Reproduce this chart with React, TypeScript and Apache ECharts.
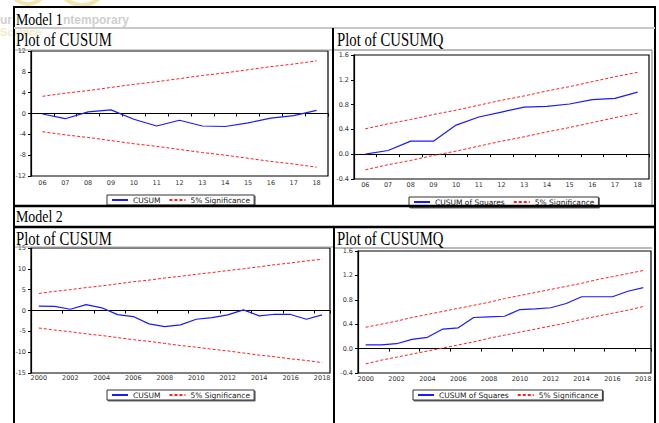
import React, { useEffect, useRef } from 'react';
import * as echarts from 'echarts';

// Model 1 (categories 06..18)
const cats1 = ['06', '07', '08', '09', '10', '11', '12', '13', '14', '15', '16', '17', '18'];
const cusum1 = [-0.1, -1.0, 0.3, 0.7, -1.1, -2.4, -1.3, -2.4, -2.5, -1.8, -0.9, -0.4, 0.6];
const cusum1Upper = [3.3, 3.9, 4.4, 5.0, 5.6, 6.1, 6.7, 7.3, 7.8, 8.4, 9.0, 9.5, 10.1];
const cusum1Lower = [-3.5, -4.1, -4.6, -5.2, -5.8, -6.3, -6.9, -7.5, -8.0, -8.6, -9.2, -9.7, -10.3];
const sq1 = [0.0, 0.06, 0.21, 0.21, 0.47, 0.6, 0.68, 0.76, 0.77, 0.81, 0.88, 0.9, 1.0];
const sq1Upper = [0.41, 0.49, 0.56, 0.64, 0.71, 0.79, 0.87, 0.94, 1.02, 1.09, 1.17, 1.25, 1.32];
const sq1Lower = [-0.25, -0.17, -0.1, -0.02, 0.05, 0.13, 0.21, 0.28, 0.36, 0.43, 0.51, 0.59, 0.66];

// Model 2 (years 2000..2018)
const years2 = ['2000', '2001', '2002', '2003', '2004', '2005', '2006', '2007', '2008', '2009', '2010', '2011', '2012', '2013', '2014', '2015', '2016', '2017', '2018'];
const cusum2 = [1.05, 1.0, 0.3, 1.4, 0.65, -1.0, -1.45, -3.2, -3.85, -3.45, -2.1, -1.7, -1.05, 0.15, -1.3, -0.9, -0.95, -2.1, -1.05];
const cusum2Upper = [4.1, 4.6, 5.0, 5.5, 5.9, 6.4, 6.9, 7.3, 7.8, 8.2, 8.7, 9.1, 9.6, 10.0, 10.5, 11.0, 11.4, 11.9, 12.3];
const cusum2Lower = [-4.2, -4.7, -5.1, -5.6, -6.0, -6.5, -7.0, -7.4, -7.9, -8.4, -8.8, -9.3, -9.7, -10.2, -10.7, -11.1, -11.6, -12.0, -12.5];
const sq2 = [0.06, 0.06, 0.08, 0.15, 0.185, 0.32, 0.34, 0.51, 0.52, 0.53, 0.64, 0.65, 0.67, 0.74, 0.85, 0.85, 0.85, 0.94, 1.0];
const sq2Upper = [0.35, 0.4, 0.45, 0.51, 0.56, 0.61, 0.66, 0.71, 0.76, 0.82, 0.87, 0.92, 0.97, 1.02, 1.07, 1.13, 1.18, 1.23, 1.28];
const sq2Lower = [-0.25, -0.19, -0.14, -0.09, -0.04, 0.01, 0.06, 0.11, 0.17, 0.22, 0.27, 0.32, 0.37, 0.42, 0.48, 0.53, 0.58, 0.63, 0.69];

const cusumTicks = { min: -12, max: 12, interval: 4 };
const cusum2Ticks = { min: -15, max: 15, interval: 5 };
const sqTicks = { min: -0.4, max: 1.6, interval: 0.4 };

const BLUE = '#1a1aff';
const RED = '#ff2020';
const SANS = 'DejaVu Sans';
const SERIF = 'Liberation Serif';

export default function App() {
  const ref = useRef<HTMLDivElement>(null);

  useEffect(() => {
    if (!ref.current) return;
    const chart = echarts.init(ref.current, undefined, { renderer: 'svg' });

    const gridDefs = [
      { left: 31, top: 51, width: 297, height: 125 },
      { left: 354, top: 55, width: 295, height: 124 },
      { left: 31, top: 248, width: 299, height: 125 },
      { left: 358, top: 251, width: 293, height: 122 },
    ];
    const grid = gridDefs.map((g) => ({ ...g, show: true, borderColor: '#000', borderWidth: 1.2 }));

    const xCats = [cats1, cats1, years2, years2];
    const xMargins = [3, 2, 1, 2];
    const xAxis = xCats.map((d, i) => ({
      type: 'category',
      gridIndex: i,
      data: d,
      boundaryGap: true,
      axisLine: { show: true, lineStyle: { color: '#000', width: 1.2 } },
      axisTick: { show: true, length: 3, lineStyle: { color: '#000', width: 1 } },
      axisLabel: {
        interval: i < 2 ? 0 : 1,
        fontSize: 6.5,
        fontFamily: SANS,
        color: '#333',
        margin: xMargins[i],
      },
      splitLine: { show: false },
    }));

    const yDefs = [cusumTicks, sqTicks, cusum2Ticks, sqTicks];
    const yAxis = yDefs.map((t, i) => ({
      type: 'value',
      gridIndex: i,
      min: t.min,
      max: t.max,
      interval: t.interval,
      axisLine: { show: true, lineStyle: { color: '#000', width: 1.2 } },
      axisTick: { show: true, length: 3, lineStyle: { color: '#000', width: 1 } },
      splitLine: { show: false },
      axisLabel: {
        fontSize: 6.5,
        fontFamily: SANS,
        color: '#333',
        margin: 5,
        formatter: (v: number) => (i === 1 || i === 3 ? v.toFixed(1) : String(Math.round(v))),
      },
    }));

    const mainData = [cusum1, sq1, cusum2, sq2];
    const upData = [cusum1Upper, sq1Upper, cusum2Upper, sq2Upper];
    const loData = [cusum1Lower, sq1Lower, cusum2Lower, sq2Lower];
    const mainNames = ['CUSUM', 'CUSUM of Squares', 'CUSUM', 'CUSUM of Squares'];

    const series: any[] = [];
    for (let i = 0; i < 4; i++) {
      series.push({
        type: 'line',
        name: mainNames[i],
        xAxisIndex: i,
        yAxisIndex: i,
        data: mainData[i],
        symbol: 'none',
        lineStyle: { color: BLUE, width: 1.2 },
        itemStyle: { color: BLUE },
        z: 3,
        markLine: {
          silent: true,
          symbol: ['none', 'none'],
          label: { show: false },
          lineStyle: { color: '#000', type: 'solid', width: 1 },
          data: [{ yAxis: 0 }],
          z: 2,
        },
      });
      [upData[i], loData[i]].forEach((d) => {
        series.push({
          type: 'line',
          name: '5% Significance',
          xAxisIndex: i,
          yAxisIndex: i,
          data: d,
          symbol: 'none',
          lineStyle: { color: RED, width: 1, type: [3, 2] },
          itemStyle: { color: RED },
          z: 3,
        });
      });
    }

    const legendPos = [
      { left: 107, top: 195 },
      { left: 409, top: 197 },
      { left: 107, top: 390 },
      { left: 413, top: 390 },
    ];
    const legend = legendPos.map((p, i) => ({
      ...p,
      orient: 'horizontal',
      data: [mainNames[i], '5% Significance'],
      selectedMode: false,
      itemWidth: 16,
      itemHeight: 6,
      itemGap: 8,
      padding: [1, 4, 1, 4],
      borderColor: '#333',
      borderWidth: 1,
      backgroundColor: '#fff',
      shadowColor: 'rgba(0,0,0,0.6)',
      shadowOffsetX: 1,
      shadowOffsetY: 1,
      shadowBlur: 0,
      itemStyle: { opacity: 0 },
      textStyle: { fontSize: 7.5, fontFamily: SANS, color: '#222' },
    }));

    const line = (x1: number, y1: number, x2: number, y2: number, stroke: string, w: number) => ({
      type: 'line',
      silent: true,
      shape: { x1, y1, x2, y2 },
      style: { stroke, lineWidth: w },
      z: 10,
    });
    const title = (x: number, y: number, text: string, size: number, sx: number) => ({
      type: 'text',
      x,
      y,
      scaleX: sx,
      silent: true,
      z: 11,
      style: {
        text,
        fontSize: size,
        fontFamily: SERIF,
        fill: '#000',
        verticalAlign: 'middle',
        align: 'left',
      },
    });

    const graphic: any[] = [
      // faint journal logo/watermark at the top-left
      { type: 'circle', silent: true, shape: { cx: 28, cy: -14, r: 18 }, style: { fill: 'none', stroke: '#f1e6ad', lineWidth: 4 }, z: 1 },
      { type: 'circle', silent: true, shape: { cx: 82, cy: -20, r: 25 }, style: { fill: 'none', stroke: '#f1e6ad', lineWidth: 4 }, z: 1 },
      { type: 'text', silent: true, x: 0, y: 20, z: 1, style: { text: 'ur', fontSize: 12, fontWeight: 'bold', fontFamily: 'Liberation Sans', fill: '#cfcfcf', verticalAlign: 'middle' } },
      { type: 'text', silent: true, x: 63, y: 20, z: 1, style: { text: 'ntemporary', fontSize: 12, fontWeight: 'bold', fontFamily: 'Liberation Sans', fill: '#cfcfcf', verticalAlign: 'middle' } },
      { type: 'text', silent: true, x: 0, y: 32, z: 1, style: { text: 'Science', fontSize: 11, fontWeight: 'bold', fontFamily: 'Liberation Sans', fill: '#f3ecc4', verticalAlign: 'middle' } },
      // table lines
      line(14, 7, 656, 7, '#000', 2),
      line(14, 6, 14, 423, '#000', 2),
      line(655, 6, 655, 423, '#000', 2),
      line(14, 28, 655, 28, '#c8c8c8', 2),
      line(333, 28, 333, 206, '#000', 2),
      line(14, 206, 655, 206, '#000', 2.5),
      line(14, 227, 655, 227, '#000', 2.5),
      line(334, 227, 334, 423, '#000', 2),
      // chart frames
      line(15, 50, 332, 50, '#9a9a9a', 1),
      line(334, 50, 652, 50, '#777', 1),
      line(652, 50, 652, 205, '#777', 1),
      line(15, 247, 333, 247, '#9a9a9a', 1),
      line(335, 248, 652, 248, '#777', 1),
      // titles
      title(16, 19.5, 'Model 1', 16, 0.87),
      title(16, 40, 'Plot of CUSUM', 18, 0.82),
      title(337, 40, 'Plot of CUSUMQ', 18, 0.82),
      title(16, 216.5, 'Model 2', 16, 0.87),
      title(16, 238.5, 'Plot of CUSUM', 18, 0.82),
      title(337, 238.5, 'Plot of CUSUMQ', 18, 0.82),
    ];

    chart.setOption({
      animation: false,
      backgroundColor: '#fff',
      grid,
      xAxis,
      yAxis,
      series,
      legend,
      graphic,
    });

    return () => {
      chart.dispose();
    };
  }, []);

  return (
    <div
      ref={ref}
      style={{ position: 'absolute', left: 0, top: 0, width: 659, height: 423 }}
    />
  );
}
